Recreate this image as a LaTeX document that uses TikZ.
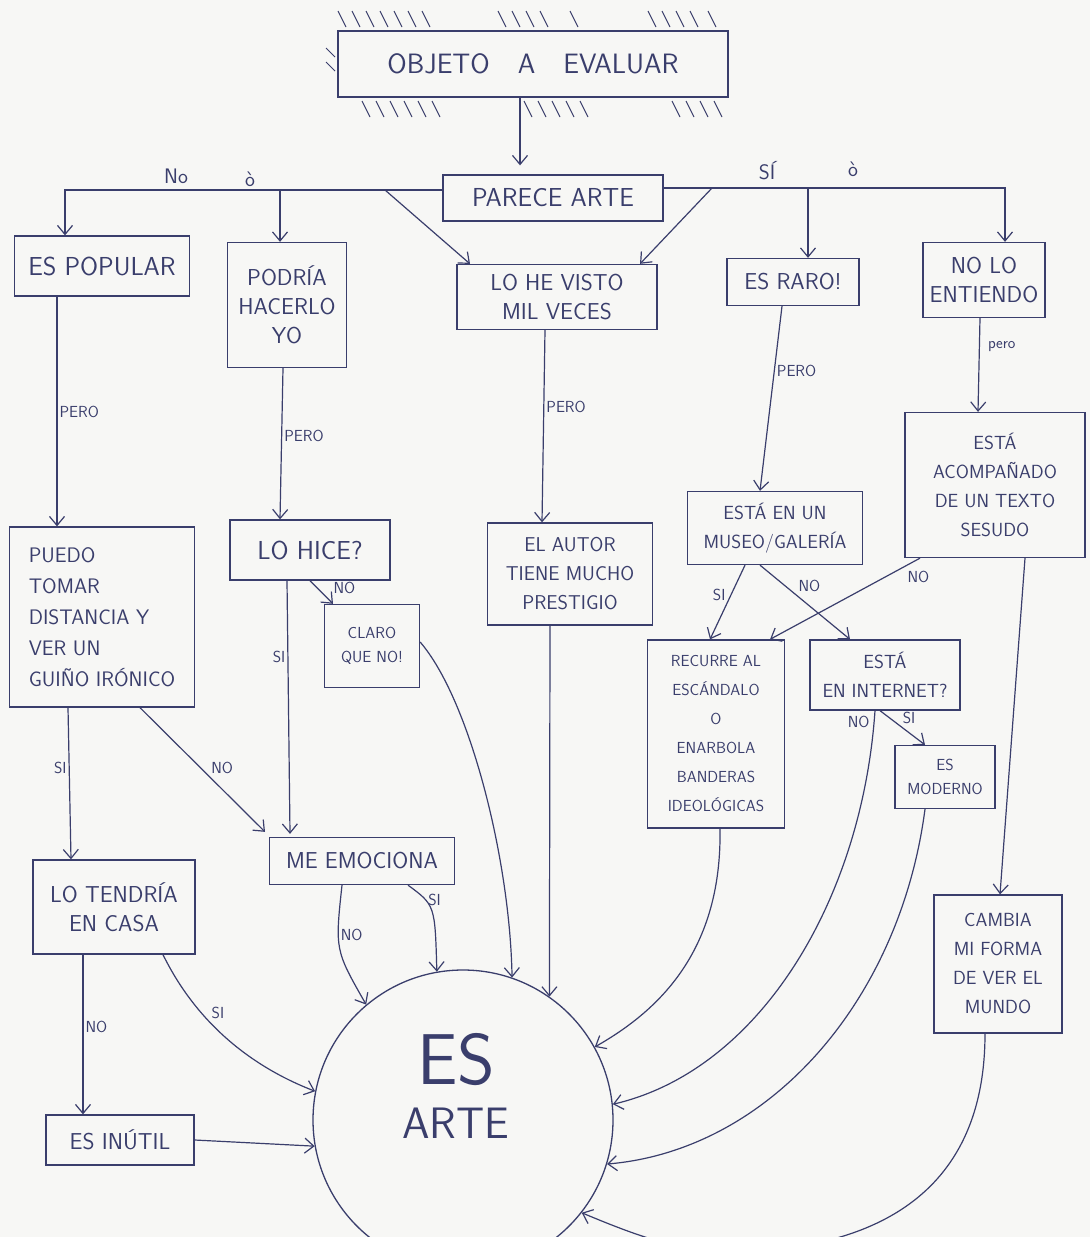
\documentclass[tikz,border=0pt]{standalone}
\usepackage{fontspec}
\usepackage{xcolor}
\usetikzlibrary{positioning, arrows.meta}
\definecolor{inkblue}{HTML}{3A3E6C}
\definecolor{paper}{HTML}{F7F7F5}

\tikzset{
  box/.style={draw=inkblue, line width=1.3pt, text=inkblue, align=center,
              inner sep=5pt, font=\sffamily\fontsize{23}{29}\selectfont},
  midbox/.style={box, font=\sffamily\fontsize{19}{29}\selectfont},
  tightbox/.style={box, font=\sffamily\fontsize{16}{24}\selectfont},
  bigbox/.style={box, font=\sffamily\fontsize{26}{30}\selectfont},
  link/.style={draw=inkblue, line width=1.2pt, -{Straight Barb[length=9pt,width=15pt]}},
  tag/.style={text=inkblue, inner sep=2pt, font=\sffamily\fontsize{16}{18}\selectfont},
  hatch/.style={draw=inkblue, line width=1pt},
}

\begin{document}
\begin{tikzpicture}[x=1pt, y=-1pt]
  \useasboundingbox[fill=paper] (0,0) rectangle (1090,1237);

  % start box with its hatching
  \node[box, minimum width=390pt, minimum height=66pt,
        font=\sffamily\fontsize{28}{30}\selectfont] (objeto) at (533,64) {OBJETO\quad A\quad EVALUAR};
  \foreach \x in {338,352,366,380,394,408,422, 498,512,526,540,570, 648,662,676,690,708}
    \draw[hatch] (\x,11) -- ++(8,16);
  \foreach \x in {362,376,390,404,418,432, 524,538,552,566,580, 672,686,700,714}
    \draw[hatch] (\x,101) -- ++(8,16);
  \foreach \y in {48,62}
    \draw[hatch] (326,\y) -- ++(9,9);

  % first question
  \node[bigbox, minimum width=220pt, minimum height=46pt] (parece) at (553,198) {PARECE ARTE};

  % answers: no / si
  \node[bigbox, minimum width=175pt, minimum height=60pt] (popular) at (102,266) {ES POPULAR};
  \node[box, minimum width=119pt, minimum height=125pt] (podria) at (287,305) {PODRÍA\\HACERLO\\YO};
  \node[box, minimum width=200pt, minimum height=65pt] (visto) at (557,297) {LO HE VISTO\\MIL VECES};
  \node[box, minimum width=132pt, minimum height=47pt] (raro) at (793,282) {ES RARO!};
  \node[box, minimum width=122pt, minimum height=75pt] (entiendo) at (984,280) {NO LO\\ENTIENDO};

  % second row
  \node[box, minimum width=185pt, minimum height=180pt, align=left,
        font=\sffamily\fontsize{21}{31}\selectfont] (puedo) at (102,617) {PUEDO\\TOMAR\\DISTANCIA Y\\VER UN\\GUIÑO IRÓNICO};
  \node[bigbox, minimum width=160pt, minimum height=60pt] (lohice) at (310,550) {LO HICE?};
  \node[tightbox, minimum width=95pt, minimum height=83pt] (claro) at (372,646) {CLARO\\QUE NO!};
  \node[box, minimum width=165pt, minimum height=102pt,
        font=\sffamily\fontsize{20}{29}\selectfont] (autor) at (570,574) {EL AUTOR\\TIENE MUCHO\\PRESTIGIO};
  \node[midbox, minimum width=175pt, minimum height=73pt] (museo) at (775,528) {ESTÁ EN UN\\MUSEO/GALERÍA};
  \node[midbox, minimum width=180pt, minimum height=145pt] (acomp) at (995,485) {ESTÁ\\ACOMPAÑADO\\DE UN TEXTO\\SESUDO};

  % third row
  \node[tightbox, minimum width=137pt, minimum height=188pt,
        font=\sffamily\fontsize{16}{29}\selectfont] (recurre) at (716,734) {RECURRE AL\\ESCÁNDALO\\O\\ENARBOLA\\BANDERAS\\IDEOLÓGICAS};
  \node[midbox, minimum width=150pt, minimum height=70pt] (internet) at (885,675) {ESTÁ\\EN INTERNET?};
  \node[tightbox, minimum width=100pt, minimum height=63pt] (moderno) at (945,777) {ES\\MODERNO};
  \node[box, minimum width=185pt, minimum height=47pt] (emociona) at (362,861) {ME EMOCIONA};
  \node[box, minimum width=162pt, minimum height=94pt] (tendria) at (114,907) {LO TENDRÍA\\EN CASA};
  \node[box, minimum width=148pt, minimum height=50pt] (inutil) at (120,1140) {ES INÚTIL};
  \node[midbox, minimum width=128pt, minimum height=138pt] (cambia) at (998,964) {CAMBIA\\MI FORMA\\DE VER EL\\MUNDO};

  % the goal
  \node[draw=inkblue, line width=1.3pt, circle, minimum size=300pt] (arte) at (463,1120) {};
  \node[text=inkblue, align=center, font=\sffamily] (artetxt) at (456,1086)
    {{\fontsize{72}{72}\selectfont ES}\\[22pt]{\fontsize{44}{50}\selectfont ARTE}};

  % top split
  \draw[link] ([xshift=-13pt]objeto.south) -- ([xshift=-33pt,yshift=9pt]parece.north);
  \draw[link] ([yshift=8pt]parece.west) -| ([xshift=-37pt]popular.north);
  \draw[link] ([yshift=10pt]parece.east) -| ([xshift=21pt]entiendo.north);
  \coordinate (noPodria) at (280,190);
  \coordinate (noVisto) at (385,190);
  \coordinate (siRaro) at (808,188);
  \coordinate (siVisto) at (712,188);
  \draw[link] (noPodria) -- (noPodria |- podria.north);
  \draw[link] (noVisto) -- ([xshift=-87pt]visto.north);
  \draw[link] (siRaro) -- (siRaro |- raro.north);
  \draw[link] (siVisto) -- ([xshift=83pt]visto.north);
  \node[tag, font=\sffamily\fontsize{21}{22}\selectfont] (lblNo) at (176,176) {No};
  \node[tag, font=\sffamily\fontsize{21}{22}\selectfont] (lblOa) at (250,179) {ò};
  \node[tag, font=\sffamily\fontsize{21}{22}\selectfont] (lblSi) at (767,171) {SÍ};
  \node[tag, font=\sffamily\fontsize{21}{22}\selectfont] (lblOb) at (853,169) {ò};

  % pero
  \draw[link] ([xshift=-45pt]popular.south) -- ([xshift=-45pt]puedo.north)
    node[tag, pos=0.5, right] (lblPeroA) {PERO};
  \draw[link] ([xshift=-4pt]podria.south) -- ([xshift=-30pt]lohice.north)
    node[tag, pos=0.45, right] (lblPeroB) {PERO};
  \draw[link] ([xshift=-12pt]visto.south) -- ([xshift=-28pt]autor.north)
    node[tag, pos=0.4, right] (lblPeroC) {PERO};
  \draw[link] ([xshift=-11pt]raro.south) -- ([xshift=-15pt]museo.north)
    node[tag, pos=0.35, right] (lblPeroD) {PERO};
  \draw[link] ([xshift=-4pt]entiendo.south) -- ([xshift=-17pt]acomp.north)
    node[tag, pos=0.3, right, xshift=6pt] (lblPeroE) {pero};

  % left column
  \draw[link] ([xshift=-34pt]puedo.south) -- ([xshift=-43pt]tendria.north)
    node[tag, pos=0.4, left] (lblSiA) {SI};
  \draw[link] ([xshift=38pt]puedo.south) -- ([xshift=-97pt,yshift=5pt]emociona.north)
    node[tag, pos=0.55, above right] (lblNoA) {NO};
  \draw[link] ([xshift=-23pt]lohice.south) -- ([xshift=-72pt,yshift=3pt]emociona.north)
    node[tag, pos=0.3, left] (lblSiB) {SI};
  \draw[link] (lohice.south) -- ([xshift=-39pt]claro.north)
    node[tag, pos=0.3, right, xshift=14pt] (lblNoB) {NO};
  \draw[link] ([xshift=-31pt]tendria.south) -- ([xshift=-37pt]inutil.north)
    node[tag, pos=0.45, right] (lblNoC) {NO};

  % right column
  \draw[link] ([xshift=-30pt]museo.south) -- ([xshift=-6pt]recurre.north)
    node[tag, pos=0.4, left, xshift=-3pt] (lblSiC) {SI};
  \draw[link] ([xshift=-15pt]museo.south) -- ([xshift=-35pt]internet.north)
    node[tag, pos=0.4, above right] (lblNoD) {NO};
  \draw[link] ([xshift=-75pt]acomp.south) -- ([xshift=54pt]recurre.north)
    node[tag, pos=0.1, below right, yshift=-2pt] (lblNoE) {NO};
  \draw[link] ([xshift=-5pt]internet.south) -- ([xshift=-20pt]moderno.north)
    node[tag, pos=0.45, above right] (lblSiD) {SI};
  \draw[link] ([xshift=30pt]acomp.south) -- ([xshift=2pt]cambia.north);

  % everything ends here
  \draw[link] ([yshift=4pt]claro.east) .. controls (470,700) and (510,860) .. (arte.71);
  \draw[link] ([xshift=-20pt]autor.south) -- (arte.55);
  \draw[link] ([xshift=4pt]recurre.south) .. controls (722,950) and (660,1010) .. (arte.29);
  \draw[link] ([xshift=-10pt]internet.south) .. controls (862,900) and (760,1070) .. (arte.6)
    node[tag, pos=0.02, left, xshift=-2pt] (lblNoF) {NO};
  \draw[link] ([xshift=-20pt]moderno.south) .. controls (900,1000) and (770,1150) .. (arte.-17);
  \draw[link] ([xshift=-13pt]cambia.south) .. controls (985,1190) and (880,1250) .. (730,1252)
    .. controls (680,1252) and (635,1235) .. (arte.-38);
  \draw[link] ([xshift=-20pt]emociona.south) .. controls (335,950) .. (arte.130)
    node[tag, pos=0.35, right] (lblNoG) {NO};
  \draw[link] ([xshift=46pt]emociona.south) .. controls (435,905) .. (arte.100)
    node[tag, pos=0.3, right] (lblSiE) {SI};
  \draw[link] ([xshift=49pt]tendria.south) .. controls (200,1030) and (260,1070) .. (arte.169)
    node[tag, pos=0.35, above right] (lblSiF) {SI};
  \draw[link] (inutil.east) -- (arte.190);
\end{tikzpicture}
\end{document}
